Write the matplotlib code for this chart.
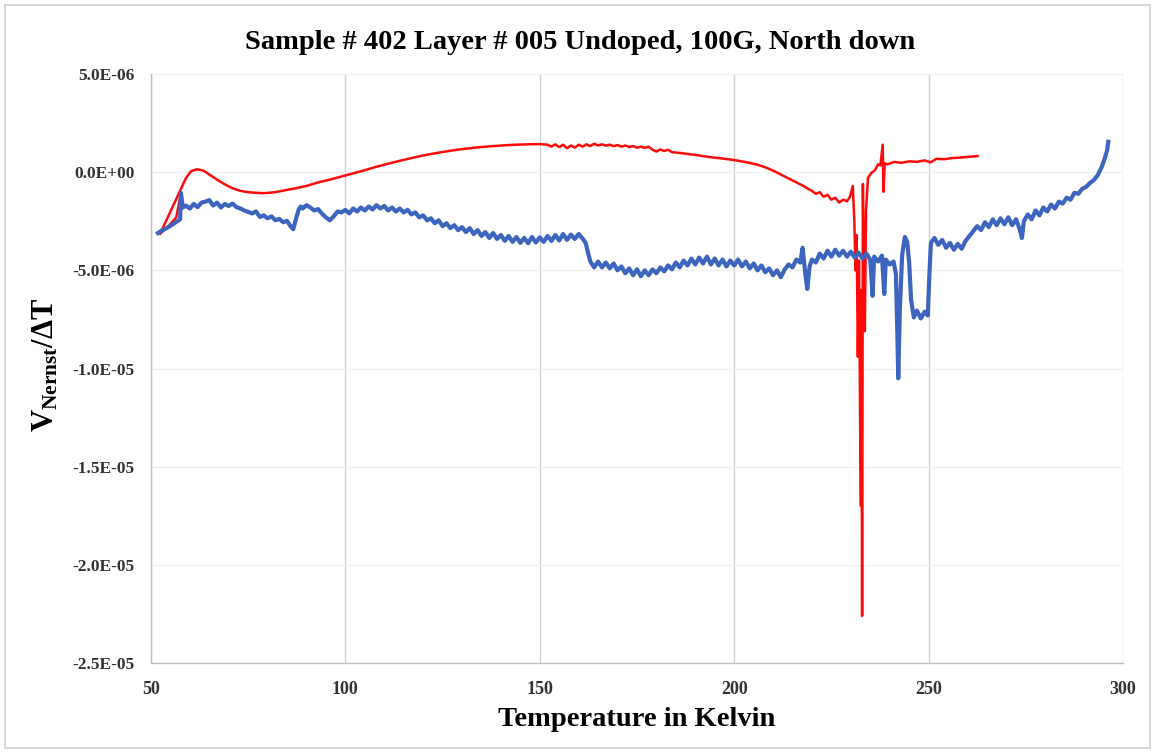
import matplotlib
matplotlib.use("Agg")
import matplotlib.pyplot as plt
from matplotlib.patches import Rectangle
from matplotlib.ticker import FuncFormatter

plt.rcParams["font.family"] = "Liberation Serif"
plt.rcParams["mathtext.fontset"] = "custom"
plt.rcParams["mathtext.rm"] = "Liberation Serif"
plt.rcParams["mathtext.bf"] = "Liberation Serif:bold"

title = "Sample # 402 Layer # 005 Undoped, 100G, North down"
x_label = "Temperature in Kelvin"
y_label = r"$\mathbf{V_{Nernst}/\Delta T}$"

x_ticks = [50, 100, 150, 200, 250, 300]
y_ticks = [5e-6, 0.0, -5e-6, -1e-5, -1.5e-5, -2e-5, -2.5e-5]

# Nernst signal, red run (temperature in K, V/dT in units of 1e-6 V/K)
red_temp = [
    57.6, 56.5, 54.5, 52.3, 53.5, 55.5, 57.5, 59.0, 60.3, 61.8, 63.5, 65.0,
    67, 69, 71, 73, 75, 77, 79, 81, 83, 85, 87, 90, 93, 96, 99, 102, 105,
    108, 111, 114, 117, 120, 123, 126, 129, 132, 135, 138, 141, 144, 147,
    150, 152, 153, 154, 155, 156, 157, 158, 159, 160, 161, 162, 163, 164,
    165, 166, 167, 168, 169, 170, 171, 172, 173, 174, 175, 176, 177, 178,
    179, 180, 181, 182, 183, 184, 186, 188, 190, 192, 194, 196, 198, 200,
    202, 204, 206, 208, 210, 212, 214, 216, 218, 219, 220, 221, 222, 223,
    224, 225, 226, 227, 228, 229, 229.8, 230.5, 230.9, 231.2, 231.5, 231.8,
    232.1, 232.4, 232.6, 232.7, 232.9, 233.1, 233.4, 233.6, 233.9, 234.4,
    235.2, 236.2, 237.0, 237.6, 238.2, 238.4, 238.7, 239.5, 241, 243, 245,
    247, 249, 250.5, 252, 254, 256, 258, 260, 262.6,
]
red_v = [
    -1.20, -2.30, -2.75, -3.15, -2.65, -1.80, -0.95, -0.30, 0.05, 0.15, 0.08, -0.12,
    -0.38, -0.62, -0.82, -0.95, -1.02, -1.05, -1.07, -1.04, -0.98, -0.90, -0.83, -0.70,
    -0.52, -0.38, -0.22, -0.06, 0.10, 0.28, 0.43, 0.58, 0.72, 0.85, 0.96, 1.06, 1.15,
    1.22, 1.28, 1.33, 1.37, 1.40, 1.42, 1.43, 1.40, 1.30, 1.42, 1.28, 1.40, 1.22,
    1.36, 1.25, 1.40, 1.30, 1.42, 1.33, 1.45, 1.36, 1.42, 1.35, 1.40, 1.33, 1.38,
    1.30, 1.36, 1.28, 1.33, 1.25, 1.30, 1.24, 1.30, 1.14, 1.05, 1.16, 1.08, 1.14,
    1.02, 0.98, 0.93, 0.88, 0.82, 0.76, 0.72, 0.67, 0.62, 0.55, 0.47, 0.38, 0.25,
    0.08, -0.12, -0.32, -0.52, -0.72, -0.85, -0.95, -1.10, -1.02, -1.25, -1.15,
    -1.40, -1.30, -1.55, -1.40, -1.48, -1.25, -0.70, -2.50, -5.00, -3.20, -9.40,
    -4.50, -13.0, -17.0, -6.0, -22.6, -0.60, -6.0, -8.10, -2.0, -0.30, -0.05, 0.10,
    0.40, 0.35, 1.40, -1.00, 0.45, 0.40, 0.52, 0.48, 0.55, 0.53, 0.60, 0.50, 0.68,
    0.66, 0.72, 0.74, 0.78, 0.82,
]

# Nernst signal, blue run (temperature in K, V/dT in units of 1e-6 V/K)
blue_temp = [
    51.8, 53.0, 54.5, 56.0, 57.5, 57.7, 58.2, 59, 60, 61, 62, 63, 64, 65, 66,
    67, 68, 69, 70, 71, 72, 73, 74, 75, 76, 77, 78, 79, 80, 81, 82, 83, 84,
    85, 86, 86.6, 87.2, 88.0, 88.5, 89, 90, 91, 92, 93, 94, 95, 96, 97, 97.6,
    98, 99, 100, 101, 102, 103, 104, 105, 106, 107, 108, 109, 110, 111, 112,
    113, 114, 115, 116, 117, 118, 119, 120, 121, 122, 123, 124, 125, 126,
    127, 128, 129, 130, 131, 132, 133, 134, 135, 136, 137, 138, 139, 140,
    141, 142, 143, 144, 145, 146, 147, 148, 149, 150, 151, 152, 153, 154,
    155, 156, 157, 158, 159, 160, 161, 161.8, 162.4, 163.0, 164, 165, 166,
    167, 168, 169, 170, 171, 172, 173, 174, 175, 176, 177, 178, 179, 180,
    181, 182, 183, 184, 185, 186, 187, 188, 189, 190, 191, 192, 193, 194,
    195, 196, 197, 198, 199, 200, 201, 202, 203, 204, 205, 206, 207, 208,
    209, 210, 211, 212, 213, 214, 215, 216, 217, 217.6, 218.3, 218.8, 219.4,
    220, 221, 222, 223, 224, 225, 226, 227, 228, 229, 230, 231, 232, 233,
    234, 235, 235.6, 236.0, 237, 238, 238.6, 239.0, 240, 241, 241.6, 242.0,
    242.2, 242.6, 243.2, 243.9, 244.5, 245.0, 245.5, 246.2, 247, 248, 249,
    249.8, 250.2, 250.6, 251.5, 252.5, 253.5, 254.5, 255.5, 256.5, 257.5,
    258.5, 259.5, 260.5, 261.5, 262.5, 263.5, 264.5, 265.5, 266.5, 267.5,
    268.5, 269.5, 270.5, 271.5, 272.5, 273.5, 274.0, 274.5, 275.5, 276.5,
    277.5, 278.5, 279.5, 280.5, 281.5, 282.5, 283.5, 284.5, 285.5, 286.5,
    287.5, 288.5, 289.5, 290.5, 291.5, 292.5, 293.5, 294.5, 295.3, 295.9,
    296.2,
]
blue_v = [
    -3.10, -2.95, -2.80, -2.60, -2.40, -1.05, -1.80, -1.70, -1.85, -1.62, -1.78,
    -1.55, -1.50, -1.42, -1.70, -1.55, -1.80, -1.62, -1.72, -1.60, -1.78, -1.85,
    -1.95, -2.02, -2.10, -2.00, -2.28, -2.20, -2.35, -2.25, -2.45, -2.38, -2.55,
    -2.48, -2.78, -2.90, -2.45, -1.90, -1.75, -1.85, -1.68, -1.80, -1.95, -1.88,
    -2.12, -2.30, -2.45, -2.25, -2.10, -2.00, -2.05, -1.92, -2.10, -1.85, -2.00,
    -1.80, -1.95, -1.75, -1.90, -1.68, -1.85, -1.72, -1.95, -1.80, -2.00, -1.85,
    -2.05, -1.92, -2.15, -2.05, -2.30, -2.20, -2.45, -2.35, -2.60, -2.45, -2.75,
    -2.60, -2.85, -2.70, -2.95, -2.80, -3.05, -2.85, -3.15, -2.95, -3.25, -3.05,
    -3.35, -3.10, -3.40, -3.20, -3.50, -3.25, -3.55, -3.30, -3.60, -3.35, -3.62,
    -3.30, -3.58, -3.32, -3.55, -3.25, -3.50, -3.20, -3.48, -3.15, -3.45, -3.18,
    -3.40, -3.15, -3.38, -3.60, -4.10, -4.55, -4.85, -4.55, -4.85, -4.60, -4.90,
    -4.65, -5.00, -4.80, -5.15, -4.90, -5.25, -4.95, -5.30, -5.00, -5.25, -4.95,
    -5.15, -4.85, -5.05, -4.75, -4.95, -4.60, -4.85, -4.50, -4.75, -4.40, -4.70,
    -4.35, -4.65, -4.30, -4.70, -4.40, -4.75, -4.45, -4.80, -4.50, -4.75, -4.45,
    -4.80, -4.55, -4.90, -4.65, -5.00, -4.75, -5.10, -4.90, -5.25, -5.00, -5.35,
    -4.95, -4.70, -4.85, -4.45, -4.60, -3.85, -5.20, -5.95, -4.80, -4.45, -4.60,
    -4.15, -4.40, -4.00, -4.30, -3.95, -4.25, -4.00, -4.30, -4.05, -4.35, -4.10,
    -4.40, -4.15, -4.45, -6.30, -4.30, -4.55, -4.25, -6.20, -4.45, -4.70, -4.55,
    -5.20, -8.50, -10.50, -7.00, -4.20, -3.30, -3.55, -4.60, -6.50, -7.40, -7.05,
    -7.45, -7.10, -7.30, -5.20, -3.60, -3.35, -3.70, -3.45, -3.85, -3.60, -3.95,
    -3.65, -3.90, -3.50, -3.25, -3.00, -2.75, -2.95, -2.55, -2.80, -2.40, -2.70,
    -2.35, -2.65, -2.30, -2.70, -2.40, -2.95, -3.35, -2.50, -2.15, -2.40, -1.95,
    -2.20, -1.80, -2.00, -1.65, -1.85, -1.50, -1.60, -1.30, -1.40, -1.05, -1.10,
    -0.85, -0.75, -0.55, -0.40, -0.15, 0.25, 0.70, 1.10, 1.55,
]

SCALE = 1e-6

fig = plt.figure(figsize=(11.55, 7.53), dpi=100)
fig.patches.append(Rectangle((0.004, 0.006), 0.992, 0.988, transform=fig.transFigure,
                             fill=False, edgecolor="#d4d4d4", linewidth=1.3))

ax = fig.add_axes([0.1307, 0.1195, 0.8416, 0.7822])
ax.plot(red_temp, [v * SCALE for v in red_v], color="#ff0a0a", linewidth=1.8, zorder=3)
ax.plot(blue_temp, [v * SCALE for v in blue_v], color="#3d64bf", linewidth=3.0,
        solid_joinstyle="round", zorder=4)

ax.set_xlim(x_ticks[0], x_ticks[-1])
ax.set_ylim(y_ticks[-1], y_ticks[0])
ax.set_xticks(x_ticks)
ax.set_yticks(y_ticks)
ax.yaxis.set_major_formatter(FuncFormatter(lambda v, _: f"{v:.1E}"))

ax.grid(axis="x", color="#d0d0d0", linewidth=1.0)
ax.grid(axis="y", color="#f0f0f0", linewidth=1.0)
ax.set_axisbelow(True)
for side in ("top", "right"):
    ax.spines[side].set_visible(False)
for side in ("left", "bottom"):
    ax.spines[side].set_color("#bdbdbd")
    ax.spines[side].set_linewidth(1.0)

ax.tick_params(axis="both", length=0, labelcolor="#333333")
ax.tick_params(axis="x", pad=13, labelsize=13)
ax.tick_params(axis="y", pad=12, labelsize=12.5)
for lbl in ax.get_xticklabels() + ax.get_yticklabels():
    lbl.set_fontweight("bold")

fig.text(0.502, 0.944, title, ha="center", va="center", fontsize=20.5, fontweight="bold")
fig.text(0.551, 0.045, x_label, ha="center", va="center", fontsize=20.5, fontweight="bold")
fig.text(0.040, 0.515, y_label, ha="center", va="center", fontsize=22, rotation=90)

fig.savefig("out.png", dpi=100)
